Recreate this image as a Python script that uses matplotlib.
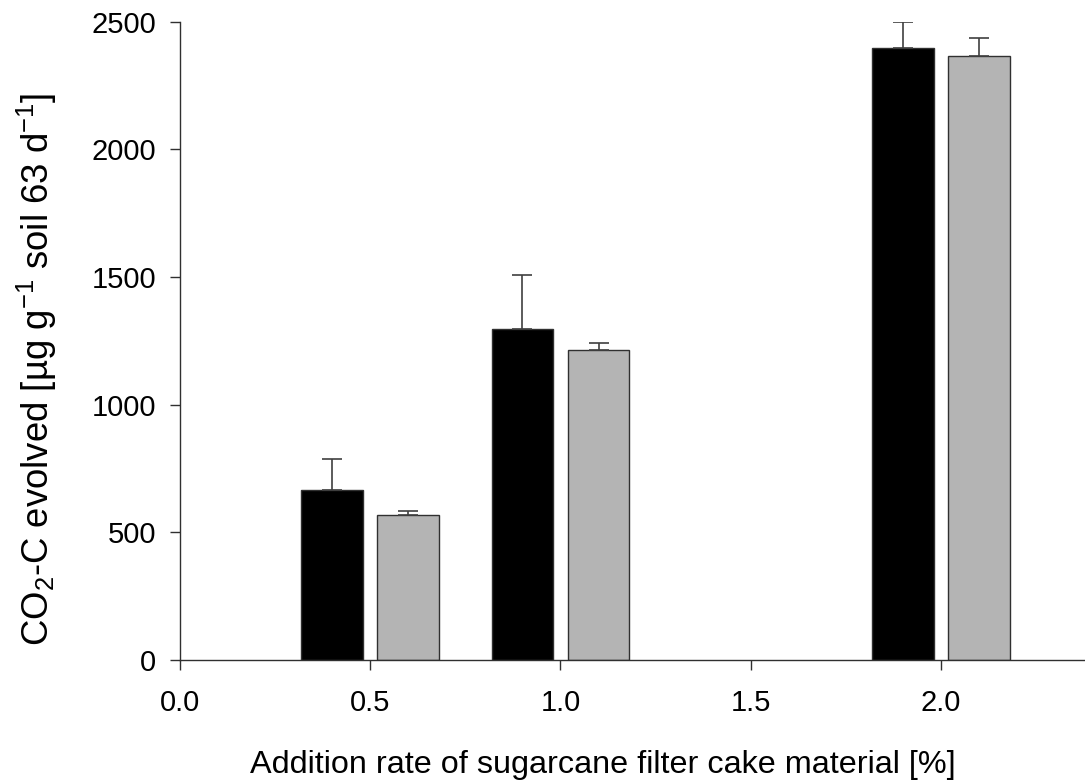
import matplotlib
matplotlib.use("Agg")
import matplotlib.pyplot as plt
import numpy as np

plt.rcParams['font.family'] = ['Liberation Sans', 'DejaVu Sans']
plt.rcParams['mathtext.fontset'] = 'custom'
plt.rcParams['mathtext.rm'] = 'Liberation Sans'
plt.rcParams['mathtext.it'] = 'Liberation Sans'
plt.rcParams['mathtext.default'] = 'regular'

# Addition rates and CO2-C evolved for the two treatments
rates = [0.5, 1.0, 2.0]
series_a = [666, 1295, 2398]
series_a_err = [121, 212, 101]
series_b = [569, 1215, 2367]
series_b_err = [16, 27, 68]

x_ticks = [0.0, 0.5, 1.0, 1.5, 2.0]
y_ticks = [0, 500, 1000, 1500, 2000, 2500]

fig = plt.figure(figsize=(10.85, 7.82), dpi=100)
ax = fig.add_axes([0.1657, 0.156, 1.0 - 0.1657, 0.8162])

x = np.array(rates)
width = 0.162
offset = 0.1
ekw = dict(ecolor='#404040', elinewidth=1.2, capsize=7, capthick=1.2)

ax.bar(x - offset, series_a, width, color='black', edgecolor='#303030', linewidth=1.0,
       yerr=[np.zeros(len(x)), series_a_err], error_kw=ekw, zorder=2)
ax.bar(x + offset, series_b, width, color='#b4b4b4', edgecolor='#303030', linewidth=1.0,
       yerr=[np.zeros(len(x)), series_b_err], error_kw=ekw, zorder=2)

ax.set_xlim(0, 2.378)
ax.set_ylim(0, 2500)
ax.set_xticks(x_ticks)
ax.set_xticklabels([f"{v:.1f}" for v in x_ticks])
ax.set_yticks(y_ticks)

for s in ['top', 'right']:
    ax.spines[s].set_visible(False)
for s in ['left', 'bottom']:
    ax.spines[s].set_linewidth(1.0)
    ax.spines[s].set_color('#303030')
ax.tick_params(direction='out', length=7, width=1.0, color='#303030', labelsize=21)
ax.tick_params(axis='y', pad=10)
ax.tick_params(axis='x', pad=14)

fig.text(0.556, 0.011, 'Addition rate of sugarcane filter cake material [%]',
         ha='center', va='baseline', fontsize=23.3)
fig.text(0.034, 0.528, r'CO$_2$-C evolved [µg g$^{-1}$ soil 63 d$^{-1}$]',
         ha='center', va='center', rotation=90, fontsize=26.3)

fig.savefig('out.png', dpi=100)
